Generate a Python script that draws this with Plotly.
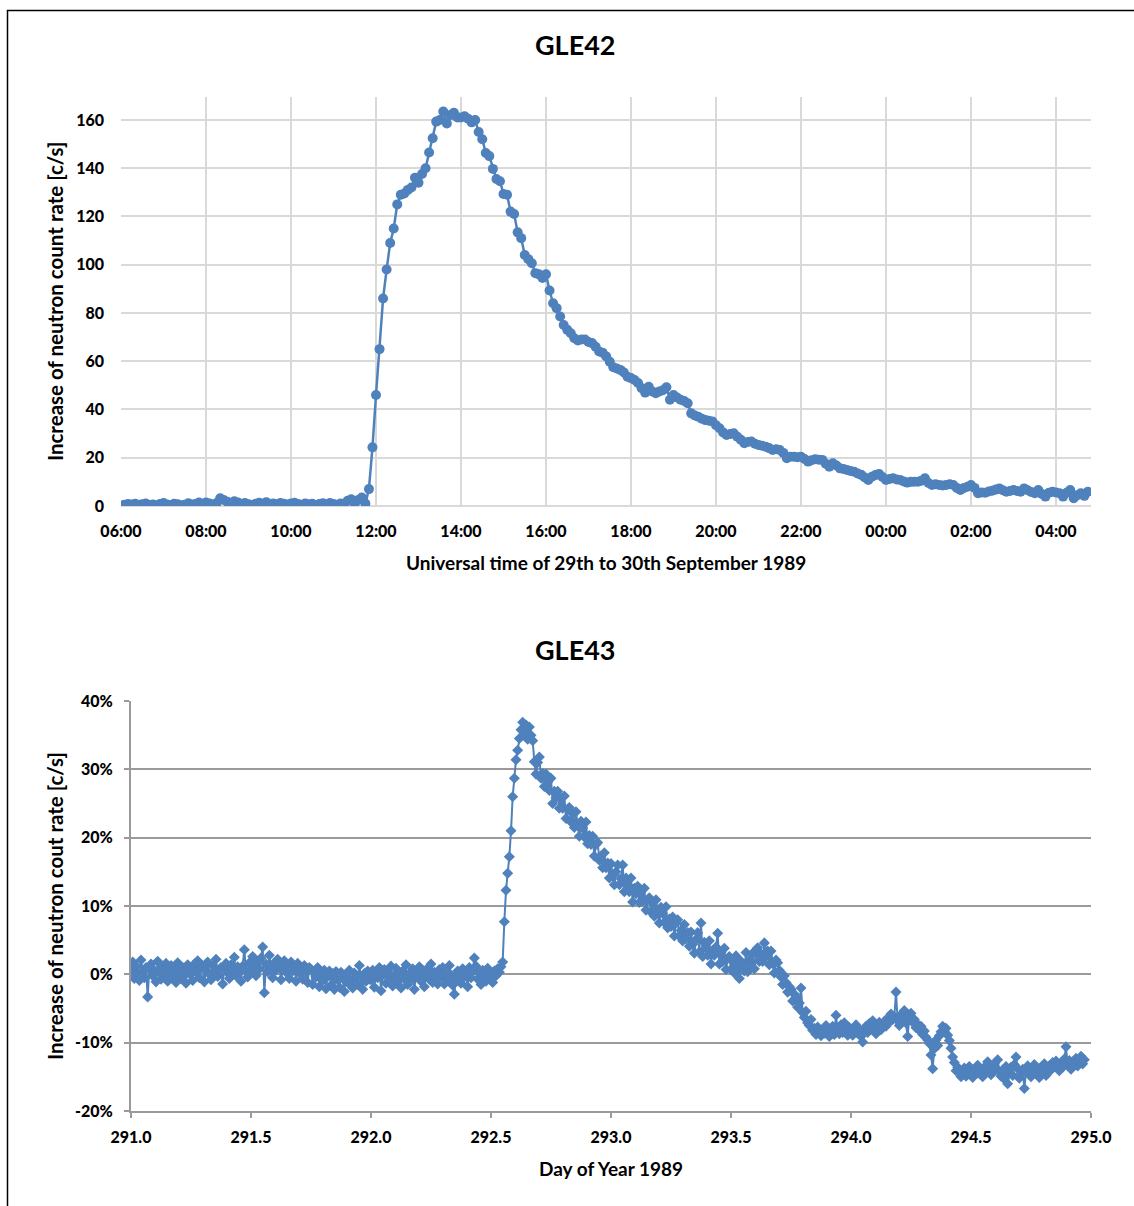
import numpy as np
import pandas as pd
import plotly.graph_objects as go

# ---------------- GLE42 : 5-minute increase of neutron count rate [c/s] ----------------
gle42_start = "1989-09-29 06:00"
gle42_h06 = [0.2, 0.5, 0.8, 0.6, 0.9, 0.5, 0.7, 1.0, 0.4, 0.6, 0.3, 0.8]
gle42_h07 = [1.2, 0.6, 0.4, 0.9, 0.7, 0.3, 0.5, 1.1, 0.6, 0.8, 1.4, 0.5]
gle42_h08 = [1.5, 1.0, 0.6, 1.2, 3.2, 2.5, 1.8, 1.2, 2.0, 1.5, 0.8, 1.2]
gle42_h09 = [0.7, 0.4, 0.9, 1.3, 0.6, 1.6, 0.5, 1.0, 0.7, 1.2, 0.9, 0.6]
gle42_h10 = [1.0, 1.3, 0.8, 0.5, 1.0, 0.7, 0.9, 0.4, 0.8, 1.1, 0.6, 1.2]
gle42_h11 = [0.8, 0.5, 1.0, 0.3, 2.2, 2.8, 1.0, 2.5, 3.5, 1.0, 7.0, 24.3]
gle42_h12 = [46, 65, 86, 98, 109, 115, 125, 129, 129.5, 131, 132, 136]
gle42_h13 = [134, 137.6, 140, 146.5, 152.4, 159.3, 160, 163.5, 158.5, 162, 163, 161]
gle42_h14 = [161, 161.5, 160.5, 159, 160, 155, 152, 146.3, 145, 139.7, 135.5, 134.6]
gle42_h15 = [129.3, 129, 122, 121, 113.4, 111, 104, 102.3, 100.6, 96.5, 96, 94.5]
gle42_h16 = [96, 89.3, 84, 82, 78.5, 75, 73, 71.6, 69.5, 68.6, 69, 69]
gle42_h17 = [68, 67.5, 66, 64, 63.5, 62, 59.8, 57.5, 57, 56.4, 55.3, 53.6]
gle42_h18 = [53, 52.2, 51, 48.8, 47, 49.4, 47.5, 46.7, 47.5, 48, 49.2, 44]
gle42_h19 = [46, 45, 44, 43.5, 42.6, 38.4, 37.5, 37, 36.2, 35.6, 35.3, 35]
gle42_h20 = [33.5, 32.2, 30.5, 29.4, 29.8, 30.1, 28.7, 27.5, 26, 26.5, 26.7, 25.8]
gle42_h21 = [25.3, 25, 24.6, 24, 23.2, 23.5, 23.2, 22, 19.8, 20.4, 20.4, 20.2]
gle42_h22 = [20.4, 19.5, 18.4, 19, 19.4, 19.2, 19.1, 17.5, 16.3, 17.7, 16.8, 15.6]
gle42_h23 = [15.3, 14.9, 14.5, 14.2, 13.5, 12.9, 11.8, 10.8, 12.1, 12.8, 13.3, 12]
gle42_h00 = [10.8, 11.2, 11.5, 11, 10.8, 10.2, 9.7, 10, 10.1, 10.1, 10.5, 11.5]
gle42_h01 = [9.5, 8.7, 9, 8.7, 8.5, 8.7, 9, 8.7, 7.5, 6.6, 7.5, 8]
gle42_h02 = [8.7, 7.5, 5.3, 5.6, 5.5, 6, 6.3, 6.8, 7.3, 6.5, 5.9, 6.2]
gle42_h03 = [6.6, 6.2, 5.9, 7.3, 6.5, 5.8, 5.3, 6.6, 5, 3.9, 5.5, 5.9]
gle42_h04 = [5.6, 5.3, 3.9, 5.5, 6.6, 3.2, 4.5, 5.3, 4.2, 5.9]

gle42_values = (gle42_h06 + gle42_h07 + gle42_h08 + gle42_h09 + gle42_h10 + gle42_h11 +
                gle42_h12 + gle42_h13 + gle42_h14 + gle42_h15 + gle42_h16 + gle42_h17 +
                gle42_h18 + gle42_h19 + gle42_h20 + gle42_h21 + gle42_h22 + gle42_h23 +
                gle42_h00 + gle42_h01 + gle42_h02 + gle42_h03 + gle42_h04)
gle42_times = pd.date_range(gle42_start, periods=len(gle42_values), freq="5min")

# ---------------- GLE43 : 10-minute increase of neutron count rate [%] ----------------
gle43_day291 = [
    0.5, 1.8, -0.6, 1.2, 0.2, -0.9, 2.1, 0.4, -0.5, 1.0,
    -3.3, 0.8, 1.5, -0.2, 0.6, -1.1, 1.9, 0.3, -0.7, 1.1,
    0.0, 1.6, -1.0, 0.5, 1.3, -0.4, 0.9, -1.2, 1.7, 0.2,
    -0.6, 1.0, 0.4, -1.3, 1.4, 0.1,
    0.8, -0.9, 1.5, 0.3, 2.0, -0.5, 0.9, 1.2, -1.1, 0.6,
    1.8, 0.0, -0.8, 1.3, 0.5, 2.2, -0.3, 0.7, 1.0, -1.4,
    0.9, 1.6, 0.2, -0.6, 1.4, 0.4, 2.5, -0.2, 1.1, 0.3,
    -1.0, 1.2, 3.6, 0.5, -0.4, 1.7,
    0.6, 2.6, 1.1, -0.2, 1.9, 0.8, 2.4, 4.0, -2.7, 1.5,
    0.4, 2.8, 1.0, -0.5, 1.7, 0.6, 2.2, 1.3, -0.8, 0.9,
    2.0, 0.3, 1.4, -0.6, 1.8, 0.5, 1.2, -1.0, 1.6, 0.2,
    0.9, -0.7, 1.3, 0.4, -1.2, 1.0,
    0.7, -1.5, 0.3, -0.4, 1.0, -1.8, 0.2, -0.9, 0.6, -2.1,
    -0.3, 0.5, -1.6, 0.1, -2.2, 0.4, -0.8, -1.9, 0.3, -0.6,
    -2.5, 0.0, -1.2, 0.6, -0.9, -2.0, 0.2, -0.5, -1.5, 1.3,
    -0.4, -2.2, 0.1, -1.0, 0.5, -0.7]
gle43_day292 = [
    -0.8, 0.6, -1.9, 0.2, -0.5, 1.0, -2.4, -0.1, 0.7, -1.3,
    0.4, -0.9, 1.2, -1.7, -0.2, 0.9, -1.1, 0.3, -2.0, 0.5,
    -0.6, 1.4, -1.5, 0.0, -0.8, 0.8, -2.2, 0.1, -0.4, 1.1,
    -1.0, 0.6, -1.8, -0.2, 0.9, -0.7, 1.5, -1.2, 0.3, -0.5,
    -1.4, 0.7, -0.3, 1.0, -1.4, 0.2, -0.9, 1.3, -0.1, -1.6,
    -2.9, -0.6, 0.5, -0.2, -1.3, 0.8, -0.4, 0.3, -1.8, 1.0,
    -0.5, 0.4, 2.4, 1.2, -0.7, 0.1, -1.5, 0.6, -0.3, -1.0,
    0.9, -0.6, 0.2, -1.2, 0.5, -0.2, 0.8, 0.3, 1.1,
    1.8, 7.7, 12.3, 14.8, 17.2, 21.0, 26.0, 28.7, 31.4, 32.8,
    34.5, 35.8, 36.9, 35.2, 36.5, 34.4, 36.2, 35.0, 34.2, 31.1,
    29.3, 31.0, 31.8, 28.7, 29.4, 27.5, 29.3, 28.1, 26.9, 28.7,
    25.0, 26.8, 25.8, 26.8, 24.3, 25.8, 24.3, 26.1, 22.8, 24.2,
    24.4, 22.3, 23.5, 21.5, 23.8, 21.8, 20.2, 22.4, 21.4, 20.1,
    22.3, 19.1, 20.3, 19.0, 20.2, 17.3, 19.0, 19.3, 16.7, 17.3,
    15.6, 17.8, 15.6, 16.3, 14.1]
gle43_day293 = [
    16.2, 14.4, 13.1, 15.0, 16.0, 13.1, 14.0, 16.0, 12.1, 14.1,
    13.1, 12.1, 14.1, 10.6, 12.6, 11.8, 12.9, 10.5, 12.1, 10.7,
    12.6, 9.4, 10.9, 11.2, 9.1, 10.4, 8.5, 10.9, 9.0, 7.5,
    9.8, 8.9, 7.6, 9.9, 6.8, 8.1, 7.0, 8.4, 5.6, 7.5,
    8.0, 5.6, 6.4, 4.9, 7.3, 5.2, 6.1, 4.1, 6.2, 4.4,
    3.1, 5.1, 6.1, 3.3, 7.5, 2.6, 4.7, 3.8, 2.8, 4.9,
    1.5, 3.5, 2.8, 4.0, 6.0, 1.5, 3.2, 1.9, 3.8, 0.7,
    2.3, 2.6, 0.7, 2.1, 0.2, 2.7, 0.9, -0.6, 1.9, 1.4,
    0.5, 3.2, 0.4, 2.1, 1.4, 3.1, 0.8, 3.0, 3.9, 1.9,
    3.0, 1.9, 4.6, 2.6, 3.4, 1.4, 3.4, 1.6, 0.2, 2.1,
    1.7, 0.6, -0.4, -1.5, -0.2, -1.2, -2.6, -1.8, -2.2, -3.9,
    -2.9, -3.4, -4.8, -4.2, -2.0, -5.6, -6.3, -5.4, -7.1, -7.5,
    -6.6, -8.2, -7.9, -8.8, -7.7, -8.4, -9.0, -8.1, -8.6, -7.5,
    -8.3, -9.1, -8.0, -7.6, -8.8, -6.0, -8.2, -8.7, -7.4, -8.5,
    -7.1, -8.0, -8.9, -7.8]
gle43_day294 = [
    -8.0, -8.9, -7.8, -7.4, -8.6, -8.2, -9.1, -9.9, -8.0, -7.6,
    -8.5, -7.2, -7.9, -6.8, -8.3, -8.7, -7.5, -7.0, -8.1, -7.7,
    -6.9, -7.6, -6.4, -7.0, -5.8, -6.6, -6.2, -2.6, -6.8, -7.5,
    -5.9, -6.3, -5.3, -7.1, -9.1, -6.2, -5.7, -7.0, -6.6, -7.8,
    -7.3, -8.2, -7.6, -8.8, -8.3, -9.2, -9.6, -10.1, -11.8, -13.8,
    -10.9, -9.6, -10.4, -9.0, -8.4, -7.6, -8.3, -7.9, -8.9, -9.7,
    -10.8, -12.1, -12.9, -14.1, -13.6, -14.4, -15.0, -14.2, -13.7, -14.9,
    -14.4, -13.5, -14.0, -15.1, -14.6, -13.8, -13.3, -14.5, -14.2, -15.0,
    -13.6, -14.1, -12.8, -13.9, -14.7, -14.2, -13.1, -13.7, -12.5, -14.3,
    -14.9, -14.0, -15.3, -13.5, -16.0, -14.4, -13.6, -14.8, -13.2, -12.1,
    -13.8, -15.2, -14.6, -13.9, -16.7, -14.3, -13.4, -14.1, -15.0, -13.7,
    -13.2, -14.5, -14.0, -15.1, -13.6, -14.2, -13.1, -14.8, -13.9, -13.4,
    -14.0, -12.9, -13.5, -12.7, -13.8, -14.1, -13.0, -13.6, -12.4, -10.6,
    -13.3, -12.6, -13.9, -12.8, -13.2, -12.3, -13.4, -12.7, -12.0, -13.1,
    -12.5]
gle43_values = gle43_day291 + gle43_day292 + gle43_day293 + gle43_day294
gle43_first_day = 291.0
gle43_samples_per_day = 144
gle43_days = gle43_first_day + np.arange(len(gle43_values)) / gle43_samples_per_day

gle43_ytick_values = [-20, -10, 0, 10, 20, 30, 40]
gle43_ytick_labels = ["-20%", "-10%", "0%", "10%", "20%", "30%", "40%"]

# ---------------- texts ----------------
title1 = "GLE42"
title2 = "GLE43"
xtitle1 = "Universal time of 29th to 30th September 1989"
ytitle1 = "Increase of neutron count rate [c/s]"
xtitle2 = "Day of Year 1989"
ytitle2 = "Increase of neutron cout rate [c/s]"

# ---------------- figure ----------------
W, H = 1134, 1206
BLUE = "#4f81bd"
FONT = "Lato"

def px_x(p):
    return p / W

def px_y(p):
    return 1 - p / H

fig = go.Figure()
fig.add_trace(go.Scatter(
    x=gle42_times, y=gle42_values, mode="lines+markers",
    line=dict(color=BLUE, width=2.5),
    marker=dict(symbol="circle", size=10, color=BLUE),
    xaxis="x", yaxis="y", showlegend=False))
fig.add_trace(go.Scatter(
    x=gle43_days, y=gle43_values, mode="lines+markers",
    line=dict(color=BLUE, width=2),
    marker=dict(symbol="diamond", size=8.5, color=BLUE),
    xaxis="x2", yaxis="y2", showlegend=False))

tickfont = dict(family=FONT, size=16, color="black", weight=900)
titlefont_x = dict(family=FONT, size=19, color="black", weight="bold")
titlefont_y = dict(family=FONT, size=20.5, color="black", weight="bold")
headfont = dict(family=FONT, size=27, color="black", weight="bold")

fig.update_layout(
    width=W, height=H,
    margin=dict(l=0, r=0, t=0, b=0, pad=0, autoexpand=False),
    paper_bgcolor="white", plot_bgcolor="white",
    font=dict(family=FONT, color="black"),
    xaxis=dict(
        domain=[px_x(121), px_x(1091)], automargin=False,
        anchor="y", type="date",
        range=["1989-09-29 06:00", "1989-09-30 04:49:25"],
        dtick=7200000, tick0="1989-09-29 06:00", tickformat="%H:%M",
        showgrid=True, gridcolor="#d9d9d9", gridwidth=2,
        showline=False, zeroline=False,
        ticks="", ticklabelstandoff=14, tickfont=tickfont,
    ),
    yaxis=dict(
        domain=[px_y(506), px_y(97)], automargin=False,
        anchor="x", range=[0, 169.5], dtick=20,
        showgrid=True, gridcolor="#d9d9d9", gridwidth=2,
        showline=False, zeroline=True, zerolinecolor="#d9d9d9", zerolinewidth=2,
        ticks="", ticklabelstandoff=16, tickfont=tickfont,
    ),
    xaxis2=dict(
        domain=[px_x(131), px_x(1091)], automargin=False,
        anchor="y2", range=[291, 295], dtick=0.5, tick0=291, tickformat=".1f",
        showgrid=False, zeroline=False,
        showline=True, linecolor="#9a9a9a", linewidth=2,
        ticks="outside", ticklen=5, tickwidth=2, tickcolor="#9a9a9a",
        ticklabelstandoff=6, tickfont=tickfont,
    ),
    yaxis2=dict(
        domain=[px_y(1111), px_y(701)], automargin=False,
        anchor="x2", range=[-20, 40],
        tickmode="array", tickvals=gle43_ytick_values, ticktext=gle43_ytick_labels,
        showgrid=True, gridcolor="#9a9a9a", gridwidth=2,
        zeroline=False,
        showline=True, linecolor="#9a9a9a", linewidth=2,
        ticks="outside", ticklen=5, tickwidth=2, tickcolor="#9a9a9a",
        ticklabelstandoff=8, tickfont=tickfont,
    ),
)

annotations = [
    dict(text=title1, x=px_x(575), y=px_y(44), font=headfont),
    dict(text=title2, x=px_x(575), y=px_y(649), font=headfont),
    dict(text=xtitle1, x=px_x(606), y=px_y(563), font=titlefont_x),
    dict(text=xtitle2, x=px_x(611), y=px_y(1168), font=titlefont_x),
    dict(text=ytitle1, x=px_x(55), y=px_y(302), textangle=-90, font=titlefont_y),
    dict(text=ytitle2, x=px_x(55), y=px_y(906), textangle=-90, font=titlefont_y),
]
for a in annotations:
    a.update(xref="paper", yref="paper", showarrow=False, xanchor="center", yanchor="middle")
fig.update_layout(annotations=annotations)

# outer chart frame (left and top edges visible)
fig.add_shape(type="rect", xref="paper", yref="paper",
              x0=px_x(7.5), x1=px_x(1150), y0=px_y(1230), y1=px_y(10.5),
              line=dict(color="black", width=1.5), fillcolor="rgba(0,0,0,0)", layer="above")

fig.write_html("out.html")
